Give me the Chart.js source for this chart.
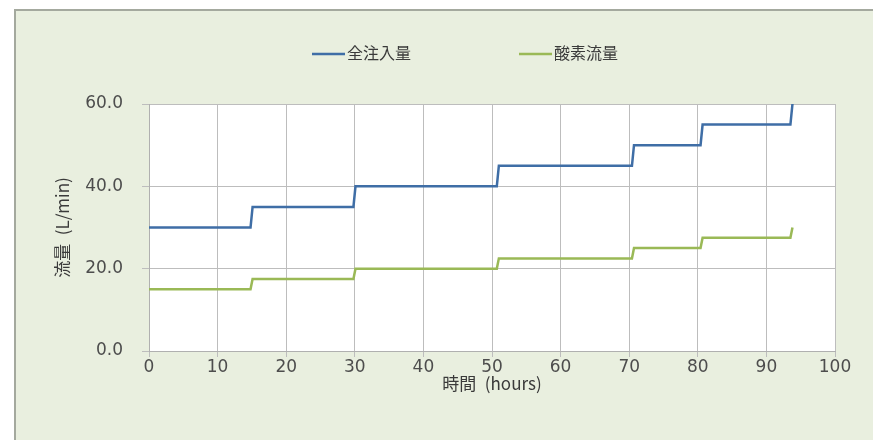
<!DOCTYPE html>
<html>
<head>
<meta charset="utf-8">
<script src="https://cdn.jsdelivr.net/npm/chart.js@4.4.1/dist/chart.umd.min.js"></script>
<style>
  html, body { margin: 0; padding: 0; background: #ffffff; width: 873px; height: 440px; overflow: hidden; }
  #panel {
    position: absolute; left: 14px; top: 9px; width: 880px; height: 440px;
    background: #e9efdf; border-top: 2px solid #a4a99e; border-left: 2px solid #a4a99e;
    box-sizing: border-box;
  }
  #c { position: absolute; left: 0; top: 0; }
</style>
</head>
<body>
<div id="panel"></div>
<canvas id="c" width="873" height="440"></canvas>
<script>
// Elapsed time (hours) at each step of the flow schedule
const timeHours = [0, 14.8, 15.1, 29.8, 30.1, 50.7, 51.0, 70.4, 70.7, 80.4, 80.7, 93.5, 93.8];
// 全注入量 (L/min)
const totalInjection = [30, 30, 35, 35, 40, 40, 45, 45, 50, 50, 55, 55, 60];
// 酸素流量 (L/min)
const oxygenFlow = [15, 15, 17.5, 17.5, 20, 20, 22.5, 22.5, 25, 25, 27.5, 27.5, 30];

const seriesNames = ['全注入量', '酸素流量'];
const xTitle = '時間\u2002(hours)';
const yTitle = '流量\u2002(L/min)';

const toPoints = (xs, ys) => xs.map((x, i) => ({ x: x, y: ys[i] }));

const CJK = '"Noto Sans CJK JP", "DejaVu Sans", sans-serif';
const NUM = '"DejaVu Sans", Verdana, sans-serif';
const TEXT_COLOR = '#4d4d4d';

// White plotting area behind the grid
const plotBackground = {
  id: 'plotBackground',
  beforeDraw(chart) {
    const { ctx, chartArea: a } = chart;
    ctx.save();
    ctx.fillStyle = '#ffffff';
    ctx.fillRect(a.left, a.top, a.right - a.left, a.bottom - a.top);
    ctx.restore();
  }
};

// Legend row above the plot: line sample followed by the series name
const flowLegend = {
  id: 'flowLegend',
  afterDraw(chart) {
    const ctx = chart.ctx;
    const sets = chart.data.datasets;
    const sample = 33, textGap = 2, itemGap = 108, centerX = 465, y = 53;
    ctx.save();
    ctx.font = '16px ' + CJK;
    ctx.textBaseline = 'middle';
    const widths = sets.map(d => sample + textGap + ctx.measureText(d.label).width);
    const total = widths.reduce((s, w) => s + w, 0) + itemGap * (sets.length - 1);
    let x = centerX - total / 2;
    sets.forEach((d, i) => {
      ctx.strokeStyle = d.borderColor;
      ctx.lineWidth = 2.5;
      ctx.beginPath();
      ctx.moveTo(x, y + 1);
      ctx.lineTo(x + sample, y + 1);
      ctx.stroke();
      ctx.fillStyle = '#3a3a3a';
      ctx.fillText(d.label, x + sample + textGap, y);
      x += widths[i] + itemGap;
    });
    ctx.restore();
  }
};

new Chart(document.getElementById('c'), {
  type: 'line',
  data: {
    datasets: [
      {
        label: seriesNames[0],
        data: toPoints(timeHours, totalInjection),
        borderColor: '#3f6ea6',
        borderWidth: 2.5,
        pointRadius: 0,
        tension: 0,
        fill: false
      },
      {
        label: seriesNames[1],
        data: toPoints(timeHours, oxygenFlow),
        borderColor: '#9ab956',
        borderWidth: 2.5,
        pointRadius: 0,
        tension: 0,
        fill: false
      }
    ]
  },
  options: {
    responsive: false,
    animation: false,
    devicePixelRatio: 1,
    layout: { padding: { left: 0, top: 104, right: 38, bottom: 0 } },
    plugins: {
      legend: { display: false },
      tooltip: { enabled: false }
    },
    scales: {
      x: {
        type: 'linear',
        min: 0,
        max: 100,
        ticks: {
          stepSize: 10,
          color: TEXT_COLOR,
          font: { family: NUM, size: 17 },
          padding: 0,
          maxRotation: 0
        },
        grid: { color: '#bdbdbd', lineWidth: 1, tickLength: 6, drawTicks: true },
        border: { color: '#b0b0b0', width: 1 },
        title: {
          display: true,
          text: xTitle,
          color: '#3a3a3a',
          font: { family: CJK, size: 17 },
          padding: { top: 0, bottom: 46 }
        },
        afterFit(scale) { scale.height = 89; }
      },
      y: {
        min: 0,
        max: 60,
        ticks: {
          stepSize: 20,
          color: TEXT_COLOR,
          font: { family: NUM, size: 17 },
          padding: 19,
          callback: v => Number(v).toFixed(1)
        },
        grid: { color: '#bdbdbd', lineWidth: 1, tickLength: 7, drawTicks: true },
        border: { color: '#b0b0b0', width: 1 },
        title: {
          display: true,
          text: yTitle,
          color: '#3a3a3a',
          font: { family: CJK, size: 17 },
          padding: { top: 52, bottom: 0 }
        },
        afterFit(scale) { scale.width = 149; }
      }
    }
  },
  plugins: [plotBackground, flowLegend]
});
</script>
</body>
</html>
